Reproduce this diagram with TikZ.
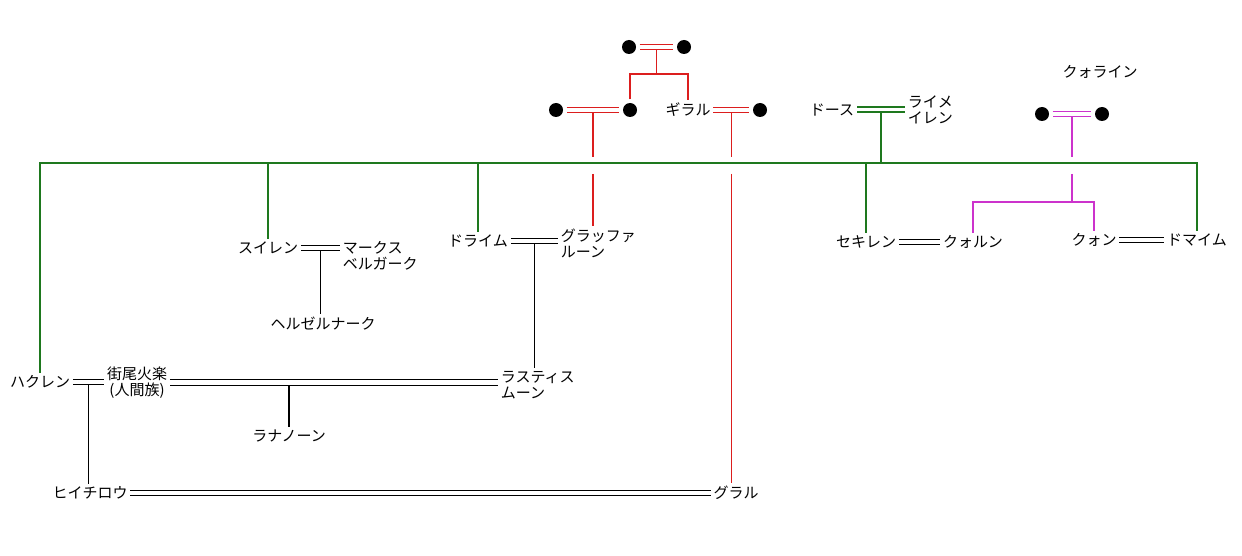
\documentclass[tikz,border=0pt]{standalone}
\usepackage{fontspec}
\usepackage{tikz}
\newfontfamily\jp{Noto Sans CJK JP}
\definecolor{clan}{HTML}{1E781E}
\definecolor{blood}{HTML}{DC1E1E}
\definecolor{kuo}{HTML}{CC33CC}

\begin{document}
\begin{tikzpicture}[x=0.75pt,y=-0.75pt,
  who/.style={font=\jp\fontsize{11.25}{12}\selectfont,inner sep=2pt},
  anon/.style={circle,fill=black,inner sep=0pt,minimum size=10.5pt,outer sep=2.7pt},
  line/.style={line width=0.9pt},
  wed/.style={double=white,double distance=3.6pt,line width=0.8pt},
  trunk/.style={draw=clan,line width=1.5pt}]
  \useasboundingbox (0,0) rectangle (1242,556);

  \node[anon] (a1) at (629,47) {};
  \node[anon] (a2) at (684,47) {};
  \node[anon] (a3) at (556,110) {};
  \node[anon] (a4) at (630,110) {};
  \node[who] (giraru) at (688,110) {ギラル};
  \node[anon] (a5) at (760,110) {};
  \node[who] (dosu) at (832,110) {ドース};
  \node[who,align=left,anchor=west] (raime) at (905,110) {ライメ\\イレン};
  \node[who] (kuorain) at (1100,72) {クォライン};
  \node[anon] (a6) at (1042,114) {};
  \node[anon] (a7) at (1102,114) {};

  \node[who] (suiren) at (268,248) {スイレン};
  \node[who,align=left,anchor=west] (marcus) at (340,256) {マークス\\ベルガーク};
  \node[who] (heruzel) at (323,324) {ヘルゼルナーク};
  \node[who] (doraimu) at (478,241) {ドライム};
  \node[who,align=left,anchor=west] (gurappa) at (558,243) {グラッファ\\ルーン};
  \node[who] (sekiren) at (866,242) {セキレン};
  \node[who] (kuorun) at (973,242) {クォルン};
  \node[who] (kuon) at (1094,240) {クォン};
  \node[who] (domaimu) at (1197,240) {ドマイム};

  \node[who] (hakuren) at (40,382) {ハクレン};
  \node[who,align=center] (machio) at (137,382.5) {街尾火楽\\(人間族)};
  \node[who,align=left,anchor=west] (rasu) at (498,385) {ラスティス\\ムーン};
  \node[who] (ranano) at (289,436) {ラナノーン};
  \node[who] (hiichi) at (90,493) {ヒイチロウ};
  \node[who] (guraru) at (736,493) {グラル};

  \coordinate (j1) at (656,74);
  \coordinate (j2) at (0,202);
  \coordinate (under) at (0,157);
  \coordinate (over) at (0,174);
  \coordinate (trunkL) at (40,163);
  \coordinate (trunkR) at (1197,163);

  \draw[wed,blood] (a1) -- (a2) coordinate[midway] (p1);
  \draw[wed,blood] (a3) -- (a4) coordinate[midway] (p2);
  \draw[wed,blood] (giraru) -- (a5) coordinate[midway] (p3);
  \draw[wed,kuo] (a6) -- (a7) coordinate[midway] (p4);
  \draw[wed,clan,line width=1.5pt,double distance=2.25pt] (dosu) -- (dosu -| raime.west) coordinate[midway] (p5);
  \draw[wed] (suiren) -- (suiren -| marcus.west) coordinate[midway] (p6);
  \draw[wed] (doraimu) -- (doraimu -| gurappa.west) coordinate[midway] (p7);
  \draw[wed] (sekiren) -- (kuorun);
  \draw[wed] (kuon) -- (domaimu);
  \draw[wed] (hakuren) -- (hakuren -| machio.west) coordinate[midway] (p8);
  \draw[wed] (machio.east) -- (machio.east -| rasu.west);
  \draw[wed] (hiichi) -- (guraru);

  \draw[line,blood] (p1) ++(0,3) -- (p1 |- j1);
  \draw[line,blood] (a4.north) -- (a4.north |- j1) -- (giraru.north |- j1) -- (giraru.north);
  \draw[line,blood] (p2) ++(0,3) -- (p2 |- under) (p2 |- over) -- (p2 |- gurappa.north);
  \draw[line,blood] (p3) ++(0,3) -- (p3 |- under) (p3 |- over) -- (p3 |- guraru.north);
  \draw[line,kuo] (p4) ++(0,3) -- (p4 |- under) (p4 |- over) -- (p4 |- j2);
  \draw[line,kuo] (kuorun.north) -- (kuorun.north |- j2) -- (kuon.north |- j2) -- (kuon.north);

  \draw[trunk] (p5) ++(0,2.5) -- (p5 |- trunkL);
  \draw[trunk] (hakuren.north) -- (trunkL) -- (trunkR) -- (domaimu.north);
  \foreach \n in {suiren,doraimu,sekiren}
    \draw[trunk] (\n.north) -- (\n.north |- trunkL);

  \draw[line] (p6) ++(0,3) -- (p6 |- heruzel.north);
  \draw[line] (p7) ++(0,3) -- (p7 |- rasu.north);
  \draw[line] (p8) ++(0,3) -- (p8 |- hiichi.north);
  \draw[line] (ranano.north |- machio) ++(0,3) -- (ranano.north);
\end{tikzpicture}
\end{document}
